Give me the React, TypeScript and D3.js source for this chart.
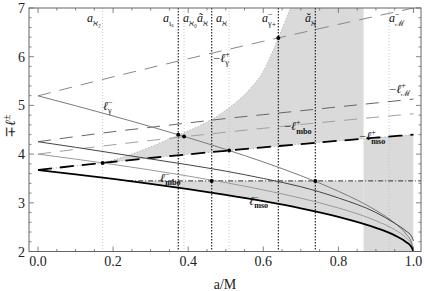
import * as d3 from "d3";

// spin grid for the co-rotating (minus) curves, denser close to a = 1
const spinPro = [0, 0.1, 0.2, 0.3, 0.4, 0.5, 0.6, 0.7, 0.8, 0.9, 0.95, 0.98, 0.995, 1];
const ellGammaMinus = [5.196, 4.993, 4.783, 4.565, 4.337, 4.096, 3.839, 3.557, 3.237, 2.844, 2.582, 2.36, 2.177, 2.0];
const ellMMinus = [4.254, 4.14, 4.02, 3.9, 3.78, 3.65, 3.5, 3.33, 3.1, 2.8, 2.58, 2.42, 2.31, 2.22];
const ellMboMinus = [4.0, 3.897, 3.789, 3.673, 3.549, 3.414, 3.265, 3.095, 2.894, 2.632, 2.447, 2.283, 2.141, 2.0];
const ellMsoMinus = [3.674, 3.585, 3.49, 3.389, 3.28, 3.163, 3.033, 2.886, 2.712, 2.487, 2.331, 2.196, 2.087, 2.0];

// spin grid for the counter-rotating (plus) curves, drawn as -l+
const spinRetro = [0, 0.1, 0.2, 0.3, 0.4, 0.5, 0.6, 0.7, 0.8, 0.9, 1];
const ellGammaPlus = [5.196, 5.393, 5.586, 5.774, 5.958, 6.138, 6.316, 6.49, 6.663, 6.832, 7.0];
const ellMPlus = [4.254, 4.36, 4.46, 4.55, 4.64, 4.73, 4.81, 4.89, 4.97, 5.05, 5.13];
const ellMboPlus = [4.0, 4.098, 4.191, 4.28, 4.366, 4.449, 4.53, 4.608, 4.683, 4.757, 4.828];
const ellMsoPlus = [3.674, 3.76, 3.841, 3.92, 3.995, 4.068, 4.138, 4.206, 4.273, 4.337, 4.4];

// upper edge of the big shaded region
const edgeSpin = [0.172, 0.25, 0.3, 0.3735, 0.45, 0.5, 0.56, 0.6, 0.64, 0.672];
const edgeEll = [3.818, 4.0, 4.15, 4.39, 4.66, 4.9, 5.3, 5.7, 6.385, 7.0];

const plateauEll = 3.45;
const plateauStart = 0.24;
const shadeEnd = 0.867;
const shadeRight = 1.0;

const markSpin = [0.172, 0.3735, 0.389, 0.4626, 0.509, 0.64, 0.7385];
const markEll = [3.818, 4.395, 4.362, 3.45, 4.072, 6.385, 3.45];

const blackVerticals = [0.3735, 0.4626, 0.64, 0.7385];
const grayVerticals = [0.172, 0.389, 0.509, 0.935];

const xTickLabels = ["0.0", "0.2", "0.4", "0.6", "0.8", "1.0"];
const yTickLabels = ["2", "3", "4", "5", "6", "7"];

const W = 424;
const H = 291;
const serif = "Liberation Serif, Times New Roman, DejaVu Serif, serif";

const x = d3.scaleLinear().domain([-0.024, 1.02]).range([29, 421]);
const y = d3.scaleLinear().domain([2, 7]).range([251.5, 8]);

const zip = (a: number[], b: number[]) => a.map((v, i) => [v, b[i]] as [number, number]);

const line = d3
  .line<[number, number]>()
  .x((d) => x(d[0]))
  .y((d) => y(d[1]))
  .curve(d3.curveMonotoneX);

function Sym({
  px,
  py,
  pre = "",
  base,
  sup,
  sub,
  size = 12,
  subBold = true,
}: {
  px: number;
  py: number;
  pre?: string;
  base: string;
  sup?: string;
  sub?: string;
  size?: number;
  subBold?: boolean;
}) {
  const s = size * 0.68;
  return (
    <text x={px} y={py} fontFamily={serif} fontSize={size} fill="#111">
      {pre && <tspan>{pre}</tspan>}
      <tspan fontStyle="italic">{base}</tspan>
      {sup && (
        <tspan dy={-size * 0.42} fontSize={s}>
          {sup}
        </tspan>
      )}
      {sub && (
        <tspan
          dx={sup ? -s * 0.55 : 0}
          dy={sup ? size * 0.72 : size * 0.3}
          fontSize={s}
          fontWeight={subBold ? "bold" : "normal"}
        >
          {sub}
        </tspan>
      )}
    </text>
  );
}

export default function App() {
  const [x0, x1] = x.range();
  const [yb, yt] = y.range();

  const msoPlusPts = zip(spinRetro, ellMsoPlus);
  const aboveMsoPlus = d3
    .area<[number, number]>()
    .x((d) => x(d[0]))
    .y0(yt)
    .y1((d) => y(d[1]))
    .curve(d3.curveMonotoneX)(msoPlusPts);
  const belowMsoPlus = d3
    .area<[number, number]>()
    .x((d) => x(d[0]))
    .y0(yb)
    .y1((d) => y(d[1]))
    .curve(d3.curveMonotoneX)(msoPlusPts);
  const aboveMsoMinus = d3
    .area<[number, number]>()
    .x((d) => x(d[0]))
    .y0(yt)
    .y1((d) => y(d[1]))
    .curve(d3.curveMonotoneX)(zip(spinPro, ellMsoMinus));

  const edgePts = zip(edgeSpin, edgeEll);
  const edgePath = line(edgePts) ?? "";
  const bigRegion =
    edgePath +
    `L${x(shadeEnd)},${y(7.2)}L${x(shadeEnd)},${y(3)}L${x(edgeSpin[0])},${y(3)}Z`;

  const xMinor = d3.range(0, 1.0001, 0.05);
  const yMinor = d3.range(2, 7.0001, 0.2);

  return (
    <svg
      width={W}
      height={H}
      style={{ position: "absolute", left: 0, top: 0, background: "#fff" }}
    >
      <defs>
        <clipPath id="plot">
          <rect x={x0} y={yt} width={x1 - x0} height={yb - yt} />
        </clipPath>
        <clipPath id="aboveMso">
          <path d={aboveMsoPlus ?? ""} />
        </clipPath>
        <clipPath id="belowMso">
          <path d={belowMsoPlus ?? ""} />
        </clipPath>
        <clipPath id="aboveMsoMinus">
          <path d={aboveMsoMinus ?? ""} />
        </clipPath>
      </defs>

      <g clipPath="url(#plot)">
        {/* shaded regions */}
        <g clipPath="url(#aboveMso)">
          <path d={bigRegion} fill="#dadada" />
        </g>
        <g clipPath="url(#belowMso)">
          <rect
            x={x(shadeEnd)}
            y={yt}
            width={x(shadeRight) - x(shadeEnd)}
            height={yb - yt}
            fill="#dadada"
          />
        </g>
        <g clipPath="url(#aboveMsoMinus)">
          <rect
            x={x(plateauStart)}
            y={y(plateauEll)}
            width={x(shadeEnd) - x(plateauStart)}
            height={yb - y(plateauEll)}
            fill="#dadada"
          />
        </g>
        <path d={edgePath} fill="none" stroke="#aaa" strokeWidth={1} strokeDasharray="1 2" />

        {/* vertical markers */}
        {grayVerticals.map((a) => (
          <line key={`g${a}`} x1={x(a)} x2={x(a)} y1={yt} y2={yb} stroke="#bbb" strokeWidth={0.8} strokeDasharray="1 2" />
        ))}
        {blackVerticals.map((a) => (
          <line key={`b${a}`} x1={x(a)} x2={x(a)} y1={yt} y2={yb} stroke="#111" strokeWidth={1.1} strokeDasharray="1.5 1.5" />
        ))}

        {/* plateau */}
        <line
          x1={x(plateauStart)}
          x2={x1}
          y1={y(plateauEll)}
          y2={y(plateauEll)}
          stroke="#333"
          strokeWidth={1}
          strokeDasharray="5 2 1 2"
        />

        {/* counter-rotating curves */}
        <path d={line(zip(spinRetro, ellGammaPlus)) ?? ""} fill="none" stroke="#888" strokeWidth={1} strokeDasharray="13 9" />
        <path d={line(zip(spinRetro, ellMPlus)) ?? ""} fill="none" stroke="#666" strokeWidth={1} strokeDasharray="13 9" />
        <path d={line(zip(spinRetro, ellMboPlus)) ?? ""} fill="none" stroke="#a0a0a0" strokeWidth={1} strokeDasharray="13 9" />
        <path d={line(msoPlusPts) ?? ""} fill="none" stroke="#aaa" strokeWidth={1} strokeDasharray="1 2" />
        <path d={line(msoPlusPts) ?? ""} fill="none" stroke="#000" strokeWidth={1.8} strokeDasharray="14 8" />

        {/* co-rotating curves */}
        <path d={line(zip(spinPro, ellGammaMinus)) ?? ""} fill="none" stroke="#7a7a7a" strokeWidth={1} />
        <path d={line(zip(spinPro, ellMMinus)) ?? ""} fill="none" stroke="#444" strokeWidth={1} />
        <path d={line(zip(spinPro, ellMboMinus)) ?? ""} fill="none" stroke="#9a9a9a" strokeWidth={1} />
        <path d={line(zip(spinPro, ellMsoMinus)) ?? ""} fill="none" stroke="#000" strokeWidth={1.8} />

        {markSpin.map((a, i) => (
          <circle key={`m${i}`} cx={x(a)} cy={y(markEll[i])} r={2} fill="#000" />
        ))}
      </g>

      {/* curve labels */}
      <Sym px={x(0.173)} py={y(4.91)} base="ℓ" sup="−" sub="γ" subBold={false} />
      <Sym px={x(0.467)} py={y(5.9)} pre="−" base="ℓ" sup="+" sub="γ" subBold={false} />
      <Sym px={x(0.936)} py={y(5.26)} pre="−" base="ℓ" sup="+" sub="ℳ" subBold={false} />
      <Sym px={x(0.656)} py={y(4.49)} pre="−" base="ℓ" sup="+" sub="mbo" />
      <Sym px={x(0.856)} py={y(4.29)} pre="−" base="ℓ" sup="+" sub="mso" />
      <Sym px={x(0.325)} py={y(3.43)} base="ℓ" sup="−" sub="mbo" />
      <Sym px={x(0.562)} py={y(2.96)} base="ℓ" sup="−" sub="mso" />

      {/* spin labels along the top */}
      <Sym px={87} py={22} base="a" sub="ℵ₂" size={12} subBold={false} />
      <Sym px={163} py={22} base="a" sub="ιₐ" size={12} subBold={false} />
      <Sym px={183} py={22} base="a" sub="ℵ₀" size={12} subBold={false} />
      <Sym px={197} py={22} base="ã" sub="ℵ" size={12} subBold={false} />
      <Sym px={216} py={22} base="a" sub="ℵ" size={12} subBold={false} />
      <Sym px={262} py={22} base="a" sup="−" sub="γ₊" size={12} subBold={false} />
      <Sym px={305} py={22} base="ă" sub="ℵ" size={12} subBold={false} />
      <Sym px={389} py={22} base="a" sup="−" sub="ℳ" size={12} subBold={false} />

      {/* frame */}
      <rect x={x0} y={yt} width={x1 - x0} height={yb - yt} fill="none" stroke="#666" strokeWidth={1} />
      {xMinor.map((t, i) => {
        const len = i % 4 === 0 ? 5 : 2.5;
        return (
          <g key={`xt${i}`} stroke="#666" strokeWidth={0.8}>
            <line x1={x(t)} x2={x(t)} y1={yb} y2={yb - len} />
            <line x1={x(t)} x2={x(t)} y1={yt} y2={yt + len} />
          </g>
        );
      })}
      {yMinor.map((t, i) => {
        const len = i % 5 === 0 ? 5 : 2.5;
        return (
          <g key={`yt${i}`} stroke="#666" strokeWidth={0.8}>
            <line x1={x0} x2={x0 + len} y1={y(t)} y2={y(t)} />
            <line x1={x1} x2={x1 - len} y1={y(t)} y2={y(t)} />
          </g>
        );
      })}
      {xTickLabels.map((lab) => (
        <text key={lab} x={x(+lab)} y={yb + 14} textAnchor="middle" fontFamily={serif} fontSize={14} fill="#222">
          {lab}
        </text>
      ))}
      {yTickLabels.map((lab) => (
        <text key={lab} x={x0 - 4} y={y(+lab) + 5} textAnchor="end" fontFamily={serif} fontSize={14} fill="#222">
          {lab}
        </text>
      ))}
      <text x={225} y={289} textAnchor="middle" fontFamily={serif} fontSize={14} fill="#222">
        a/M
      </text>
      <text transform="translate(15,126) rotate(-90)" textAnchor="middle" fontFamily={serif} fontSize={14} fill="#222">
        ∓<tspan fontStyle="italic">ℓ</tspan>
        <tspan dy={-5} fontSize={10}>±</tspan>
      </text>
    </svg>
  );
}
